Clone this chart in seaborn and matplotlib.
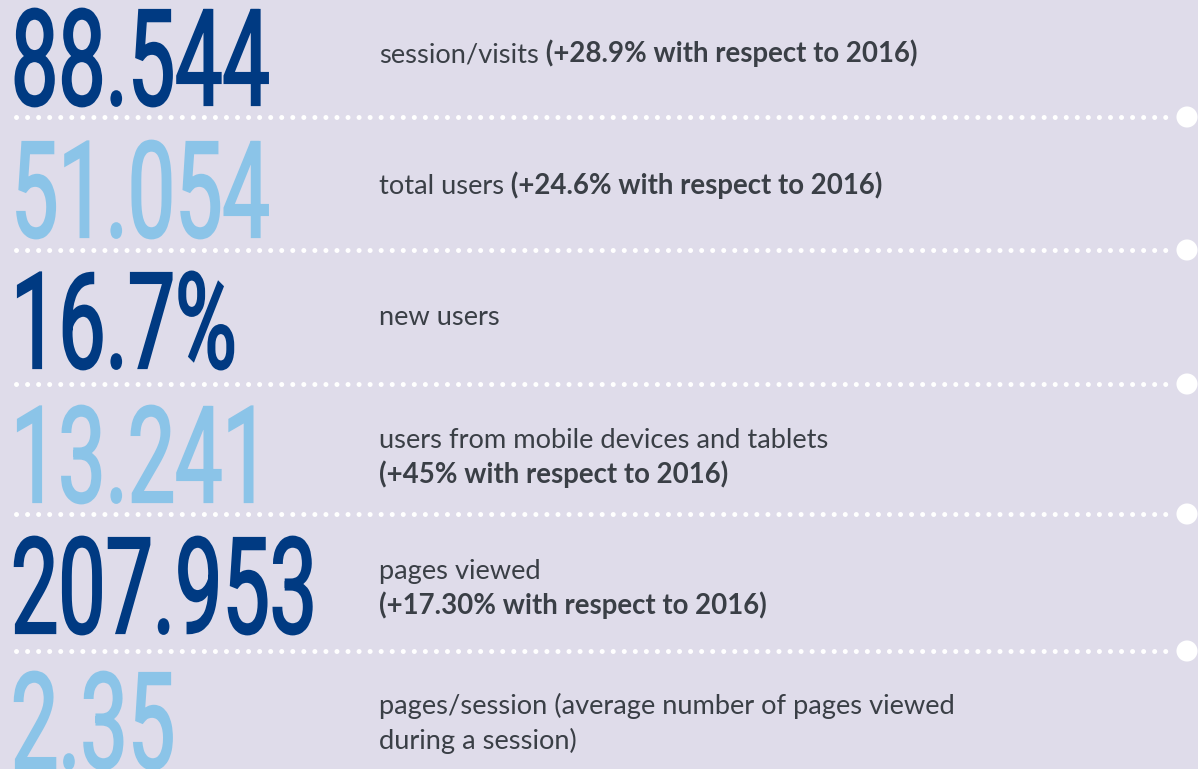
import numpy as np
import pandas as pd
import matplotlib
matplotlib.use("Agg")
import matplotlib.pyplot as plt
import seaborn as sns
from matplotlib.textpath import TextPath
from matplotlib.font_manager import FontProperties
from matplotlib.patches import PathPatch
from matplotlib.transforms import Affine2D

# key figures, top to bottom
figures = ["88.544", "51.054", "16.7%", "13.241", "207.953", "2.35"]
labels = [
    "session/visits",
    "total users",
    "new users",
    "users from mobile devices and tablets",
    "pages viewed",
    "pages/session (average number of pages viewed\nduring a session)",
]
changes = [
    "(+28.9% with respect to 2016)",
    "(+24.6% with respect to 2016)",
    "",
    "(+45% with respect to 2016)",
    "(+17.30% with respect to 2016)",
    "",
]
change_inline = [True, True, True, False, False, False]

DARK = "#003a82"
LIGHT = "#8bc4e8"
TEXT = "#3a3f46"
BG = "#dfdcea"
colors = [DARK, LIGHT, DARK, LIGHT, DARK, LIGHT]

# layout in pixel units (y grows downward)
W, H = 1198, 769
BASELINES = [105, 237, 368, 502, 633, 768]
SEPARATORS = [117, 250, 384, 514, 651]
CAP = 95
SQUEEZE = 0.63
TEXT_X = 379
FS_REG = 19.6
FS_BOLD = 19.9

sns.set_theme(style="white")
plt.rcParams["font.family"] = ["Lato", "DejaVu Sans"]

fig = plt.figure(figsize=(W / 100, H / 100), dpi=100, facecolor=BG)
ax = fig.add_axes([0, 0, 1, 1])
ax.set_facecolor(BG)
ax.set_xlim(0, W)
ax.set_ylim(H, 0)
ax.axis("off")

big_font = FontProperties(family="Roboto", weight="normal")


def big_number(text, x0, baseline, color):
    path = TextPath((0, 0), text, size=1, prop=big_font)
    em = CAP / 0.711
    tr = Affine2D().scale(em * SQUEEZE, -em).translate(x0, baseline)
    ax.add_patch(PathPatch(path, transform=tr + ax.transData,
                           facecolor=color, edgecolor=color, lw=1.6,
                           joinstyle="miter"))


# dotted separators with a circle at the right end
for y in SEPARATORS:
    sns.lineplot(x=[16, 1176], y=[y, y], ax=ax, color="white", lw=3.6,
                 linestyle=(0, (0.01, 2.2)), dash_capstyle="round")
ends = pd.DataFrame({"x": [1187] * len(SEPARATORS), "y": SEPARATORS})
sns.scatterplot(data=ends, x="x", y="y", ax=ax, color="white", s=230,
                edgecolor="none", zorder=3)

for fig_txt, label, change, inline, base, col in zip(
        figures, labels, changes, change_inline, BASELINES, colors):
    big_number(fig_txt, 11, base, col)

    label_lines = label.split("\n")
    if change and inline:
        lines = [(l, "") for l in label_lines[:-1]] + [(label_lines[-1], change)]
    else:
        lines = [(l, "") for l in label_lines]
        if change:
            lines.append(("", change))
    if len(lines) == 1:
        ys = [base - 43]
    else:
        ys = [base - 54 + 35 * i for i in range(len(lines))]
    for y, (reg, bold) in zip(ys, lines):
        if reg:
            t = ax.text(TEXT_X, y, reg, va="baseline", ha="left",
                        fontsize=FS_REG, color=TEXT)
            if bold:
                ax.annotate(" " + bold, xy=(1, 0), xycoords=t, va="bottom",
                            ha="left", fontsize=FS_BOLD, color=TEXT,
                            fontweight="bold")
        else:
            ax.text(TEXT_X, y, bold, va="baseline", ha="left",
                    fontsize=FS_BOLD, color=TEXT, fontweight="bold")

fig.savefig("out.png", dpi=100, facecolor=BG)
